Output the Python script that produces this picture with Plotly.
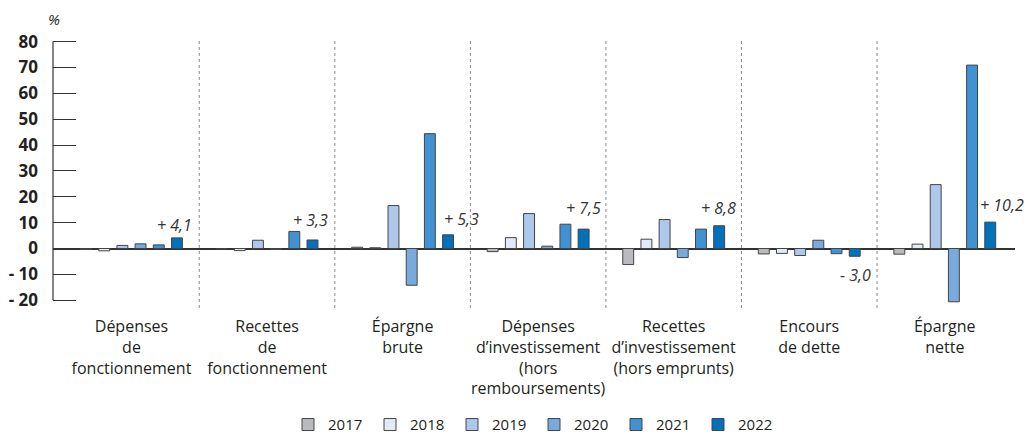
import plotly.graph_objects as go

categories = [
    "Dépenses<br>de<br>fonctionnement",
    "Recettes<br>de<br>fonctionnement",
    "Épargne<br>brute",
    "Dépenses<br>d’investissement<br>(hors<br>remboursements)",
    "Recettes<br>d’investissement<br>(hors emprunts)",
    "Encours<br>de dette",
    "Épargne<br>nette",
]
years = ["2017", "2018", "2019", "2020", "2021", "2022"]
v2017 = [-0.3, -0.2, 0.5, -1.2, -6.2, -2.1, -2.2]
v2018 = [-0.9, -0.8, 0.3, 4.2, 3.6, -1.9, 1.7]
v2019 = [1.2, 3.2, 16.6, 13.5, 11.2, -2.7, 24.7]
v2020 = [1.8, -0.3, -14.2, 0.9, -3.5, 3.2, -20.6]
v2021 = [1.4, 6.6, 44.4, 9.4, 7.5, -2.0, 70.9]
v2022 = [4.1, 3.3, 5.3, 7.5, 8.8, -3.0, 10.2]
series = [v2017, v2018, v2019, v2020, v2021, v2022]
ytick_vals = [-20, -10, 0, 10, 20, 30, 40, 50, 60, 70, 80]
ytick_text = ["- 20", "- 10", "0", "10", "20", "30", "40", "50", "60", "70", "80"]

colors = ["#b9babd", "#e1eaf6", "#adc8ea", "#78aadd", "#4192d2", "#0071bc"]
# label pixel shifts (style only)
label_dx = [-2, -2, 13, 0, -1, 1, 12]
label_dy = [13, 20, 16, 21, 18, -19, 17]

BARGAP = 0.195
FONT = "Open Sans"
ML, MR, MT, MB = 53, 17, 38.5, 127
W, H = 1032, 435
PW, PH = W - ML - MR, H - MT - MB

fig = go.Figure()
xs = list(range(len(categories)))
for yr, vals, col in zip(years, series, colors):
    fig.add_trace(go.Bar(
        x=xs, y=vals, name=yr,
        marker=dict(color=col, line=dict(color="#444444", width=1)),
    ))

pitch = (1 - BARGAP) / len(years)
for i, v in enumerate(v2022):
    sign = "+" if v > 0 else "-"
    txt = f"{sign} {abs(v):.1f}".replace(".", ",")
    fig.add_annotation(
        x=i + 2.5 * pitch, y=v, xref="x", yref="y", text=txt, showarrow=False,
        xshift=label_dx[i], yshift=label_dy[i],
        font=dict(family=FONT, size=16, color="#333333", style="italic"),
    )

for k in range(len(categories) - 1):
    fig.add_shape(type="line", x0=k + 0.5, x1=k + 0.5, y0=-23, y1=81,
                  xref="x", yref="y", line=dict(color="#8a8a8a", width=1, dash="dot"), layer="below")

# y axis line from -20 to 80
fig.add_shape(type="line", x0=0, x1=0, xref="paper", y0=-20, y1=80, yref="y",
              line=dict(color="#333333", width=1.2))

fig.add_annotation(x=(54 - ML) / PW, y=(MT + PH - 18) / PH,
                   xref="paper", yref="paper", text="%", showarrow=False,
                   xanchor="center", yanchor="middle",
                   font=dict(family=FONT, size=15, style="italic", color="#231f20"))

fig.update_layout(
    width=W, height=H,
    margin=dict(l=ML, r=MR, t=MT, b=MB, autoexpand=False),
    paper_bgcolor="white", plot_bgcolor="white",
    barmode="group", bargap=BARGAP, bargroupgap=0.4,
    font=dict(family=FONT, color="#231f20"),
    showlegend=True,
    legend=dict(orientation="h", x=0.5, xanchor="center",
                y=(MT + PH - 425) / PH, yanchor="middle",
                font=dict(size=15, family=FONT), entrywidth=37, itemwidth=30,
                traceorder="normal"),
    xaxis=dict(range=[-0.579, 6.518], tickvals=xs, ticktext=categories,
               showline=False, ticks="", showgrid=False, zeroline=False, automargin=False,
               ticklabelstandoff=7,
               tickfont=dict(size=16, family=FONT, color="#231f20")),
    yaxis=dict(range=[-23, 81], tickvals=ytick_vals, ticktext=ytick_text,
               ticks="inside", ticklen=23, tickcolor="#333333", tickwidth=1.2,
               showline=False, showgrid=False, zeroline=True, automargin=False,
               zerolinecolor="#333333", zerolinewidth=1.5,
               ticklabelstandoff=14,
               tickfont=dict(size=17, family=FONT, color="#231f20", weight="bold")),
)

fig.write_html("out.html", config={"displayModeBar": False},
               post_script="document.body.style.margin='0';document.body.style.overflow='hidden';")
